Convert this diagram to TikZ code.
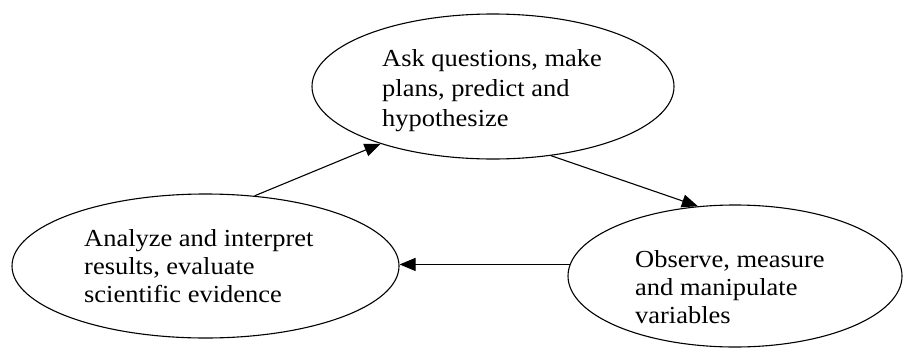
\documentclass[tikz,border=0pt]{standalone}
\usepackage{fontspec}
\setmainfont{Liberation Serif}[FakeStretch=1.08]
\usetikzlibrary{shapes.geometric,arrows.meta}

\begin{document}
\begin{tikzpicture}[x=1pt,y=-1pt]
\tikzstyle{every node}=[inner sep=0pt]
\tikzstyle{oval}=[ellipse, draw, line width=1.1pt]
\tikzstyle{txt}=[anchor=base west, align=left, font=\fontsize{24.5}{30}\selectfont]
\tikzstyle{link}=[line width=1.1pt, -{Triangle[length=16pt,width=13pt]}]
\useasboundingbox (0,0) rectangle (904,356);
\draw (493,86.5) node (ask) [oval, minimum width=362pt, minimum height=145pt] {};
\draw (205.5,266) node (ana) [oval, minimum width=387pt, minimum height=144pt] {};
\draw (735,276) node (obs) [oval, minimum width=334pt, minimum height=142pt] {};
% texts sit on the baseline of their last line
\draw (382,126) node (asktxt) [txt] {Ask questions, make\\plans, predict and\\hypothesize};
\draw (84,302) node (anatxt) [txt, font=\fontsize{24.5}{28}\selectfont] {Analyze and interpret\\results, evaluate\\scientific evidence};
\draw (635,323) node (obstxt) [txt, font=\fontsize{24.5}{28}\selectfont] {Observe, measure\\and manipulate\\variables};
\draw [link] (ana.55.8) -- (ask.207.6);
\draw [link] (ask.310.7) -- (obs.118.2);
\draw [link] (obs.176) -- (obs.176 -| ana.east);
\end{tikzpicture}
\end{document}
